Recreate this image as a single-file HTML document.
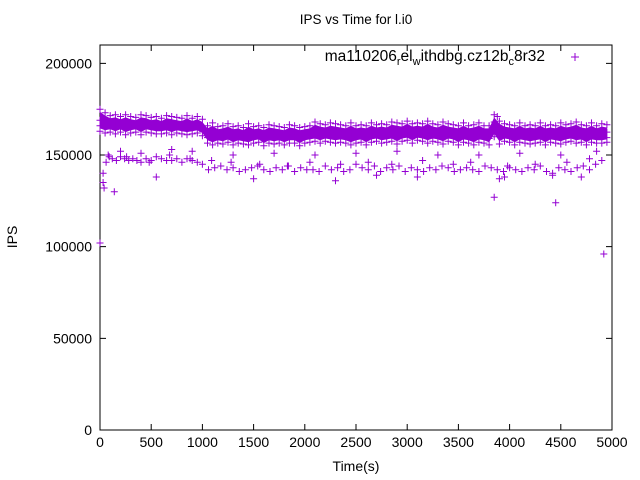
<!DOCTYPE html>
<html><head><meta charset="utf-8"><style>
html,body{margin:0;padding:0;background:#fff;}
svg{display:block;font-family:"Liberation Sans",sans-serif;}
</style></head><body>
<svg id="chart" width="640" height="480" viewBox="0 0 640 480">
<text x="356" y="24" text-anchor="middle" font-size="13.5">IPS vs Time for l.i0</text>
<text x="356" y="471" text-anchor="middle" font-size="14">Time(s)</text>
<text transform="translate(17,237) rotate(-90)" text-anchor="middle" font-size="14">IPS</text>
<g id="axes"></g>
<g id="points"></g>
<g>
<text x="545" y="61" text-anchor="end" font-size="15.5">ma110206<tspan font-size="11" dy="4">r</tspan><tspan dy="-4">el</tspan><tspan font-size="11" dy="4">w</tspan><tspan dy="-4">ithdbg.cz12b</tspan><tspan font-size="11" dy="4">c</tspan><tspan dy="-4">8r32</tspan></text>
<path d="M571 57h8M575 53v8" stroke="#9400d3" stroke-width="1"/>
</g>
</svg>
<script>
const xTicks=[0,500,1000,1500,2000,2500,3000,3500,4000,4500,5000];
const yTicks=[0,50000,100000,150000,200000];
const bandT=[0,50,100,150,200,250,300,350,400,450,500,550,600,650,700,750,800,850,900,950,1000,1050,1100,1150,1200,1250,1300,1350,1400,1450,1500,1550,1600,1650,1700,1750,1800,1850,1900,1950,2000,2050,2100,2150,2200,2250,2300,2350,2400,2450,2500,2550,2600,2650,2700,2750,2800,2850,2900,2950,3000,3050,3100,3150,3200,3250,3300,3350,3400,3450,3500,3550,3600,3650,3700,3750,3800,3850,3900,3950,4000,4050,4100,4150,4200,4250,4300,4350,4400,4450,4500,4550,4600,4650,4700,4750,4800,4850,4900,4950];
const bandA=[175000,173000,171500,172000,171000,172000,171000,170500,172000,171500,170500,171000,170000,171500,171000,170500,170000,171500,170000,171000,169500,166000,167500,165500,166000,167000,165500,166000,165000,167000,165500,166000,165000,166500,166000,165500,165000,166500,166000,165000,165500,166000,168000,167000,166500,167500,167000,166500,166000,167500,166000,166500,166000,167500,166500,167000,166500,168000,167500,167000,168500,167000,167500,167000,168500,167000,166500,168000,167000,166500,166000,167500,166000,166500,167500,166000,166000,172000,168500,167000,166500,166000,167500,166000,166500,166000,167500,166000,166500,166000,167500,166500,167000,168000,166500,166000,167500,166000,167000,166500];
const bandB=[169000,168500,168000,168500,168000,168500,168000,167500,168000,168000,167500,168000,167000,167500,168000,167500,167000,167500,167000,167500,166000,162500,162500,162000,162000,162500,162000,162000,161500,162000,162000,162500,161500,162000,162000,162000,161500,162000,162000,161500,162000,162500,163000,163000,163000,162500,163000,162500,162000,162500,162000,162500,162000,162500,163000,163000,162500,163000,163500,163000,163500,163000,163500,163000,163500,163000,162500,163000,163000,162500,162000,162500,162000,162500,162500,162000,162000,168000,164000,163000,162500,162000,162500,162000,162500,162000,162500,162000,162500,162000,162500,162500,163000,163000,162500,162000,162500,162000,163000,162500];
const bandC=[166000,166000,165500,166000,165500,165500,165000,165000,165000,165500,165000,165500,164500,165000,165000,165000,164500,165000,164500,165000,163000,159500,159500,159000,159000,159500,159000,159000,158500,159000,159000,159500,158500,159000,159000,159000,158500,159000,159000,158500,159000,159500,160000,160000,160000,159500,160000,159500,159000,159500,159000,159500,159000,159500,160000,160000,159500,160000,160500,160000,160500,160000,160500,160000,160500,160000,159500,160000,160000,159500,159000,159500,159000,159500,159500,159000,159000,164000,161000,160000,159500,159000,159500,159000,159500,159000,159500,159000,159500,159000,159500,159500,160000,160000,159500,159000,159500,159000,160000,159500];
const bandD=[163000,162000,162500,161500,162500,161000,162000,162500,161000,162500,162000,161500,161500,162000,161000,162000,161500,161000,161500,162000,160500,156500,155500,156500,156000,157000,155500,156500,156000,155500,156500,157000,155000,156500,156000,156500,155500,156500,156500,155000,156500,157000,157500,156500,157500,157000,156500,157000,156500,155500,156500,157000,155500,157000,157500,156500,157000,157500,156000,157500,158000,156500,158000,157500,156500,157500,157000,156000,157500,157000,155500,157000,156500,155500,157000,156500,155500,160000,156000,157500,157000,155500,157000,156500,156000,156500,157000,155500,157000,156500,156000,157000,157500,156500,157000,155500,157000,156500,156500,157000];
const lowT=[30,60,90,120,160,200,240,280,320,360,400,450,500,550,600,650,700,750,800,850,900,950,1000,1060,1120,1180,1240,1300,1360,1420,1480,1540,1600,1660,1720,1780,1840,1900,1960,2020,2080,2140,2200,2260,2320,2380,2440,2500,2560,2620,2680,2740,2800,2860,2920,2980,3040,3100,3160,3220,3280,3340,3400,3460,3520,3580,3640,3700,3760,3820,3880,3940,4000,4060,4120,4180,4240,4300,4360,4420,4480,4540,4600,4660,4720,4780,4840,4900,200,400,700,900,1300,1700,2100,2500,2900,3300,3700,4100,4500,4850,550,1500,2300,3100,3900,4700,80,260,480,680,880,1090,1280,1560,1830,2050,2350,2620,2850,3150,3450,3620,3980,4250,4560,4780,2700,3950,4420];
const lowV=[140000,146000,149000,148000,147000,149000,148000,147000,148000,147000,146000,148000,147000,149000,148000,147000,147000,148000,146000,148000,147000,146000,145000,142000,143000,144000,142000,143000,141000,142000,143000,144000,142000,141000,143000,142000,144000,141000,143000,142000,142000,141000,144000,142000,143000,141000,142000,145000,143000,142000,144000,141000,143000,142000,144000,141000,143000,142000,141000,143000,142000,144000,143000,141000,142000,143000,142000,141000,144000,143000,142000,141000,143000,142000,141000,143000,142000,144000,141000,140000,143000,142000,141000,143000,144000,142000,145000,147000,152000,151000,153000,152000,150000,151000,150000,151000,152000,150000,150000,151000,150000,152000,138000,137000,136000,138000,137000,138000,150000,149000,146000,150000,148000,147000,146000,145000,144000,146000,145000,146000,145000,147000,145000,146000,144000,145000,146000,148000,139000,138000,139000];
const outT=[0,40,140,30,3850,4450,4920,3880];
const outV=[102000,132000,130000,135000,127000,124000,96000,171000];
const X0=100,X1=612,Y0=430,Y1=45,YMAX=210000;
const sx=t=>X0+t/5000*(X1-X0);
const sy=v=>Y0-v/YMAX*(Y0-Y1);
const NS='http://www.w3.org/2000/svg';
const axes=document.getElementById('axes');
function mk(tag,attrs,parent){const e=document.createElementNS(NS,tag);for(const k in attrs)e.setAttribute(k,attrs[k]);parent.appendChild(e);return e;}
const frame=mk('rect',{x:X0,y:Y1,width:X1-X0,height:Y0-Y1,fill:'none',stroke:'#000','stroke-width':1},axes);


xTicks.forEach(t=>{
 const x=sx(t);
 const tk=mk('path',{d:`M${x} ${Y0}v-6M${x} ${Y1}v6`,stroke:'#000'},axes);
 
 
 const lb=mk('text',{x:x,y:447,'text-anchor':'middle','font-size':'14'},axes);
 lb.textContent=t;
 
 
});
yTicks.forEach(v=>{
 const y=sy(v);
 const tk=mk('path',{d:`M${X0} ${y}h6M${X1} ${y}h-6`,stroke:'#000'},axes);
 
 
 const lb=mk('text',{x:92,y:y+5,'text-anchor':'end','font-size':'14'},axes);
 lb.textContent=v;
 
 
});
const pts=document.getElementById('points');
let poly='';
bandT.forEach((t,i)=>{poly+=(i?'L':'M')+sx(t).toFixed(1)+' '+sy(bandA[i]-1500).toFixed(1);});
for(let i=bandT.length-1;i>=0;i--){poly+='L'+sx(bandT[i]).toFixed(1)+' '+sy(bandD[i]+1500).toFixed(1);}
poly+='Z';
const band=mk('path',{d:poly,fill:'#9400d3',stroke:'none'},pts);


let d='';
function add(t,v){const x=sx(t),y=sy(v);d+=`M${(x-3.5).toFixed(1)} ${y.toFixed(1)}h7M${x.toFixed(1)} ${(y-3.5).toFixed(1)}v7`;}
[bandA,bandB,bandC,bandD].forEach(s=>s.forEach((v,i)=>add(bandT[i],v)));
lowT.forEach((t,i)=>add(t,lowV[i]));
outT.forEach((t,i)=>add(t,outV[i]));
const p=mk('path',{d:d,stroke:'#9400d3','stroke-width':1,fill:'none'},pts);


</script>
</body></html>
